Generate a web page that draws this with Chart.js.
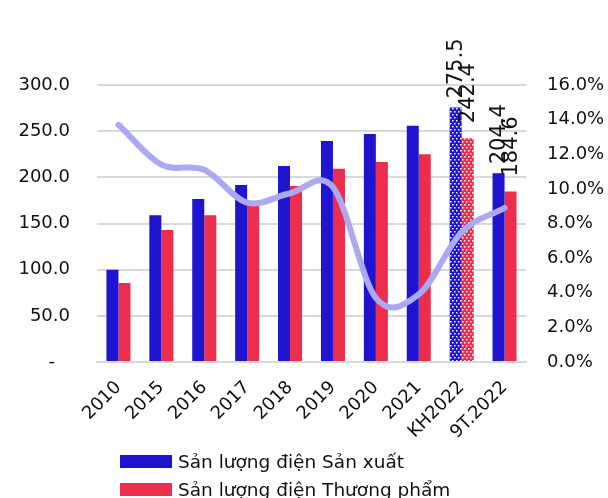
<!DOCTYPE html>
<html>
<head>
<meta charset="utf-8">
<script src="https://cdn.jsdelivr.net/npm/chart.js@4"></script>
<style>
  html, body { margin:0; padding:0; background:#fff; }
  #wrap { position:relative; width:608px; height:498px; overflow:hidden; }
  #legend { position:absolute; left:120px; top:447px; font-family:'DejaVu Sans'; font-size:18.5px; color:#111; }
  .item { display:flex; align-items:center; height:28px; }
  .box { width:52px; height:13px; margin-right:6px; }
</style>
</head>
<body>
<div id="wrap">
  <canvas id="c" width="608" height="498"></canvas>
  <div id="legend"></div>
</div>
<script>
const categories = ['2010','2015','2016','2017','2018','2019','2020','2021','KH2022','9T.2022'];
const sanXuat = [100.0, 159.0, 176.5, 191.7, 212.3, 239.4, 247.0, 256.0, 275.5, 204.4];
const thuongPham = [85.6, 143.0, 159.0, 170.0, 190.6, 209.4, 216.6, 225.0, 242.4, 184.6];
const tangTruong = [13.7, 11.4, 11.1, 9.2, 9.75, 10.1, 3.7, 3.9, 7.5, 8.9];
const leftTicks = [0, 50, 100, 150, 200, 250, 300];
const rightTicks = [0, 2, 4, 6, 8, 10, 12, 14, 16];
const seriesNames = ['Sản lượng điện Sản xuất', 'Sản lượng điện Thương phẩm', 'Tăng trưởng (%)'];
const labelIndices = [8, 9];

const BLUE = '#1F14D0';
const RED = '#EC2D4C';
const LINE = '#ABA9F2';

function dotPattern(color) {
  const t = document.createElement('canvas');
  t.width = 4; t.height = 6;
  const g = t.getContext('2d');
  g.fillStyle = color; g.fillRect(0, 0, 4, 6);
  g.fillStyle = '#fff';
  g.fillRect(0, 0, 1.5, 1.5);
  g.fillRect(2, 3, 1.5, 1.5);
  return g.createPattern(t, 'repeat');
}
const ctx = document.getElementById('c').getContext('2d');
const bluePat = dotPattern(BLUE);
const redPat = dotPattern(RED);
const blueColors = categories.map((c, i) => i === 8 ? bluePat : BLUE);
const redColors = categories.map((c, i) => i === 8 ? redPat : RED);

Chart.defaults.font.family = 'DejaVu Sans';
Chart.defaults.font.size = 18;
Chart.defaults.color = '#111';

// Smooth line like a spreadsheet (uniform Catmull-Rom control points on the library's own point positions)
const smoothLine = {
  id: 'smoothLine',
  beforeDatasetDraw(chart, args) {
    if (args.index !== 0) return;
    const line = args.meta.dataset;
    line.updateControlPoints(chart.chartArea, 'x');
    const pts = args.meta.data;
    const n = pts.length;
    for (let i = 0; i < n; i++) {
      const p = pts[i];
      const prev = pts[Math.max(i - 1, 0)], next = pts[Math.min(i + 1, n - 1)];
      const k = (i === 0 || i === n - 1) ? 1 / 3 : 1 / 6;
      const tx = (next.x - prev.x) * k, ty = (next.y - prev.y) * k;
      p.cp1x = p.x - tx; p.cp1y = p.y - ty;
      p.cp2x = p.x + tx; p.cp2y = p.y + ty;
    }
  }
};

const valueLabels = {
  id: 'valueLabels',
  afterDatasetsDraw(chart) {
    const c = chart.ctx;
    [[1, 9], [2, 15]].forEach(([di, gap]) => {
      const meta = chart.getDatasetMeta(di);
      const data = chart.data.datasets[di].data;
      labelIndices.forEach(i => {
        const el = meta.data[i];
        c.save();
        c.translate(el.x + 1, el.y - gap);
        c.rotate(-Math.PI / 2);
        c.font = '21px DejaVu Sans';
        c.fillStyle = '#111';
        c.textAlign = 'left';
        c.textBaseline = 'middle';
        c.fillText(data[i].toFixed(1), 0, 0);
        c.restore();
      });
    });
  }
};

const chart = new Chart(ctx, {
  type: 'bar',
  data: {
    labels: categories,
    datasets: [
      { type: 'line', label: seriesNames[2], data: tangTruong, yAxisID: 'y2', borderColor: LINE, borderWidth: 6, tension: 0.3, capBezierPoints: false, pointRadius: 0, order: 0, borderCapStyle: 'round', borderJoinStyle: 'round' },
      { label: seriesNames[0], data: sanXuat, backgroundColor: blueColors, yAxisID: 'y', order: 1, categoryPercentage: 0.56, barPercentage: 1.0 },
      { label: seriesNames[1], data: thuongPham, backgroundColor: redColors, yAxisID: 'y', order: 2, categoryPercentage: 0.56, barPercentage: 1.0 }
    ]
  },
  options: {
    responsive: false,
    animation: false,
    layout: { padding: { left: 0, right: 0, top: 85, bottom: 0 } },
    plugins: { legend: { display: false }, tooltip: { enabled: false } },
    scales: {
      x: {
        grid: { display: false },
        border: { color: '#d9d9d9', width: 2 },
        ticks: { maxRotation: 45, minRotation: 45, padding: 7, font: { size: 18 } },
        afterFit(s) { s.height = 136; s.paddingLeft = 0; s.paddingRight = 0; }
      },
      y: {
        position: 'left', min: 0, max: 300,
        afterBuildTicks(s) { s.ticks = leftTicks.map(v => ({ value: v })); },
        grid: { color: '#d9d9d9', lineWidth: 2, drawTicks: false },
        border: { display: false },
        ticks: { padding: 27, callback: v => v === 0 ? '-  \u2009' : v.toFixed(1) },
        afterFit(s) { s.width = 97; }
      },
      y2: {
        position: 'right', min: 0, max: 16,
        afterBuildTicks(s) { s.ticks = rightTicks.map(v => ({ value: v })); },
        grid: { display: false, drawTicks: false },
        border: { display: false },
        ticks: { padding: 21, callback: v => v.toFixed(1) + '%' },
        afterFit(s) { s.width = 82; }
      }
    }
  },
  plugins: [smoothLine, valueLabels]
});

const lg = document.getElementById('legend');
[[seriesNames[0], BLUE], [seriesNames[1], RED]].forEach(([name, col]) => {
  const d = document.createElement('div'); d.className = 'item';
  const b = document.createElement('span'); b.className = 'box'; b.style.background = col;
  const t = document.createElement('span'); t.textContent = name;
  d.appendChild(b); d.appendChild(t); lg.appendChild(d);
});
</script>
</body>
</html>
